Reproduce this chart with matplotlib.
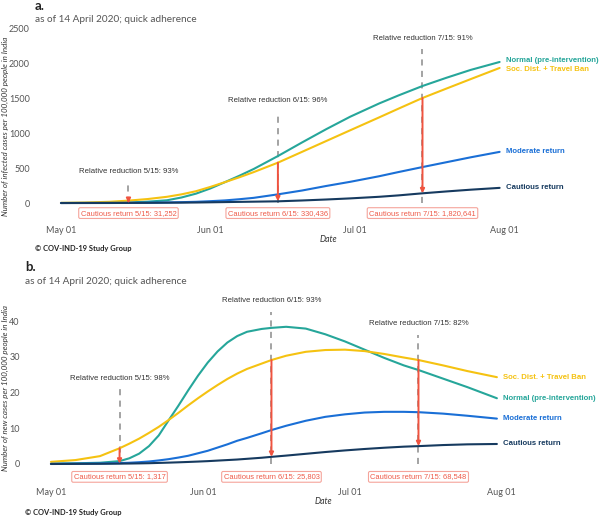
import numpy as np
import matplotlib
matplotlib.use('Agg')
import matplotlib.pyplot as plt

# days since May 01
days_a = [0, 5, 10, 14, 18, 22, 25, 28, 31, 34, 37, 40, 45, 50, 55, 60, 66, 70, 75, 80, 85, 91]
days_b = [0, 5, 10, 14, 16, 18, 20, 22, 24, 26, 28, 30, 32, 34, 36, 38, 40, 43, 45, 48, 52, 56,
          60, 64, 68, 72, 75, 80, 85, 91]

# panel a: cumulative infected cases per 100,000
normal_a = [1, 2, 4, 8, 20, 40, 80, 135, 210, 300, 392, 490, 675, 870, 1060, 1240, 1430, 1545, 1681, 1800, 1912, 2026]
socdist_a = [3, 8, 18, 35, 58, 90, 125, 170, 232, 300, 370, 445, 580, 735, 890, 1045, 1230, 1355, 1509, 1645, 1780, 1940]
moderate_a = [1, 2, 3, 4, 6, 9, 13, 18, 27, 38, 55, 75, 125, 180, 245, 305, 385, 445, 517, 587, 657, 735]
cautious_a = [0, 0.5, 1, 2, 3, 5, 6, 8, 11, 14, 17, 20, 25, 37, 51, 67, 90, 110, 140, 167, 192, 218]

# panel b: new cases per 100,000
normal_b = [0.1, 0.2, 0.35, 0.8, 1.6, 2.9, 5.0, 8.0, 12.2, 16.3, 20.6, 24.7, 28.4, 31.5, 34.0, 35.8, 37.0,
            37.8, 38.1, 38.4, 37.9, 36.3, 34.3, 32.0, 29.7, 27.6, 26.3, 23.9, 21.5, 18.4]
socdist_b = [0.6, 1.1, 2.2, 4.4, 5.7, 7.1, 8.7, 10.4, 12.3, 14.3, 16.4, 18.4, 20.3, 22.1, 23.8, 25.3, 26.6,
             28.1, 29.1, 30.3, 31.4, 31.9, 32.0, 31.6, 30.8, 29.8, 29.1, 27.6, 26.0, 24.3]
moderate_b = [0.05, 0.1, 0.15, 0.25, 0.35, 0.5, 0.7, 1.0, 1.35, 1.8, 2.3, 3.0, 3.7, 4.6, 5.5, 6.5, 7.3,
              8.6, 9.5, 10.7, 12.1, 13.2, 13.9, 14.4, 14.6, 14.6, 14.5, 14.1, 13.5, 12.7]
cautious_b = [0, 0.03, 0.06, 0.1, 0.13, 0.17, 0.22, 0.3, 0.38, 0.47, 0.57, 0.68, 0.8, 0.95, 1.1, 1.25, 1.45,
              1.75, 2.0, 2.35, 2.85, 3.35, 3.8, 4.2, 4.55, 4.85, 5.0, 5.3, 5.5, 5.6]

names = ['Normal (pre-intervention)', 'Soc. Dist. + Travel Ban', 'Moderate return', 'Cautious return']
colors = ['#26a69a', '#f5c211', '#1a6fd6', '#163a5f']

tick_days = [0, 31, 61, 92]
tick_labels = ['May 01', 'Jun 01', 'Jul 01', 'Aug 01']

mark_days = [14, 45, 75]
mark_dates = ['5/15', '6/15', '7/15']
reduction_a = ['93%', '96%', '91%']
reduction_b = ['98%', '93%', '82%']
cautious_total_a = ['31,252', '330,436', '1,820,641']
cautious_total_b = ['1,317', '25,803', '68,548']

RED = '#f0533f'
W, H = 600, 517

def fx(px):
    return px / W

def fy(py):
    return 1 - py / H

fig = plt.figure(figsize=(6, 5.17), dpi=100)

panels = [
    dict(days=days_a, series=[normal_a, socdist_a, moderate_a, cautious_a], reduction=reduction_a,
         totals=cautious_total_a,
         rect=[fx(34), fy(222), 509 / W, 200 / H], xlim=(-5.6, 100), ylim=(-272, 2600),
         yticks=[0, 500, 1000, 1500, 2000, 2500],
         text_y=[460, 1466, 2370], dash_top=[259, 1307, 2210], box_y=-144,
         label_nudge=[18, -20, 0, 0],
         ylabel='Number of infected cases per 100,000 people in India',
         letter='a.', left=35, top=6, ylab=(5, 126), date=(328, 239), copy=248),
    dict(days=days_b, series=[normal_b, socdist_b, moderate_b, cautious_b], reduction=reduction_b,
         totals=cautious_total_b,
         rect=[fx(24), fy(484), 517 / W, 194 / H], xlim=(-5.5, 100), ylim=(-5.6, 48.7),
         yticks=[0, 10, 20, 30, 40],
         text_y=[24.0, 45.9, 39.2], dash_top=[21.2, 42.5, 36.0], box_y=-3.6,
         label_nudge=[0, 0, 0, 0],
         ylabel='Number of new cases per 100,000 people in India',
         letter='b.', left=25, top=267, ylab=(5.5, 388), date=(323, 502), copy=513),
]

for p in panels:
    ax = fig.add_axes(p['rect'])
    series = p['series']
    dd = p['days']
    for vals, c in zip(series, colors):
        ax.plot(dd, vals, color=c, lw=1.5, zorder=3, solid_capstyle='round', solid_joinstyle='round')
    for vals, name, c, nud in zip(series, names, colors, p['label_nudge']):
        ax.text(dd[-1] + 1.3, vals[-1] + nud, name, color=c, fontsize=5.6, fontweight='bold',
                family='Liberation Sans', va='center', ha='left', clip_on=False)

    for i, d in enumerate(mark_days):
        k = dd.index(d)
        top_v = series[1][k]
        low_v = series[3][k]
        ax.plot([d, d], [0, p['dash_top'][i]], color='#8a8a8a', lw=1.1, ls=(0, (4, 3.5)), zorder=1)
        ax.annotate('', xy=(d, low_v), xytext=(d, top_v), zorder=4,
                    arrowprops=dict(arrowstyle='-|>', color=RED, lw=1.4, mutation_scale=6,
                                    shrinkA=0, shrinkB=0))
        ax.text(d, p['text_y'][i], 'Relative reduction %s: %s' % (mark_dates[i], p['reduction'][i]),
                ha='center', va='center', fontsize=5.6, family='Liberation Sans', color='#333333')
        ax.text(d, p['box_y'], 'Cautious return %s: %s' % (mark_dates[i], p['totals'][i]),
                ha='center', va='center', fontsize=5.4, family='Liberation Sans', color='#ee5a48',
                bbox=dict(boxstyle='round,pad=0.25,rounding_size=0.2', fc='white', ec='#f5a49b', lw=0.8))

    ax.set_xlim(*p['xlim'])
    ax.set_ylim(*p['ylim'])
    ax.set_xticks(tick_days)
    ax.set_xticklabels(tick_labels)
    ax.set_yticks(p['yticks'])
    ax.tick_params(length=0, labelsize=6.5, labelcolor='#555555', pad=3)
    for lab in ax.get_xticklabels() + ax.get_yticklabels():
        lab.set_family('Lato')
    for s in ax.spines.values():
        s.set_visible(False)
    ax.patch.set_alpha(0)

    fig.text(fx(p['left']), fy(p['top']), p['letter'], fontsize=9.5, fontweight='bold', family='Lato',
             color='#222222', va='center', ha='left')
    fig.text(fx(p['left']), fy(p['top'] + 14), 'as of 14 April 2020; quick adherence', fontsize=7.2,
             family='Lato', color='#555555', va='center', ha='left')
    fig.text(fx(p['ylab'][0]), fy(p['ylab'][1]), p['ylabel'], rotation=90, fontsize=5.8, style='italic',
             family='Lato', color='#333333', va='center', ha='center')
    fig.text(fx(p['date'][0]), fy(p['date'][1]), 'Date', fontsize=6.2, style='italic', family='Lato',
             color='#333333', va='center', ha='center')
    fig.text(fx(p['left']), fy(p['copy']), '© COV-IND-19 Study Group', fontsize=5.4, fontweight='bold',
             family='Lato', color='#222222', va='center', ha='left')

fig.savefig('out.png', dpi=100, facecolor='white')
